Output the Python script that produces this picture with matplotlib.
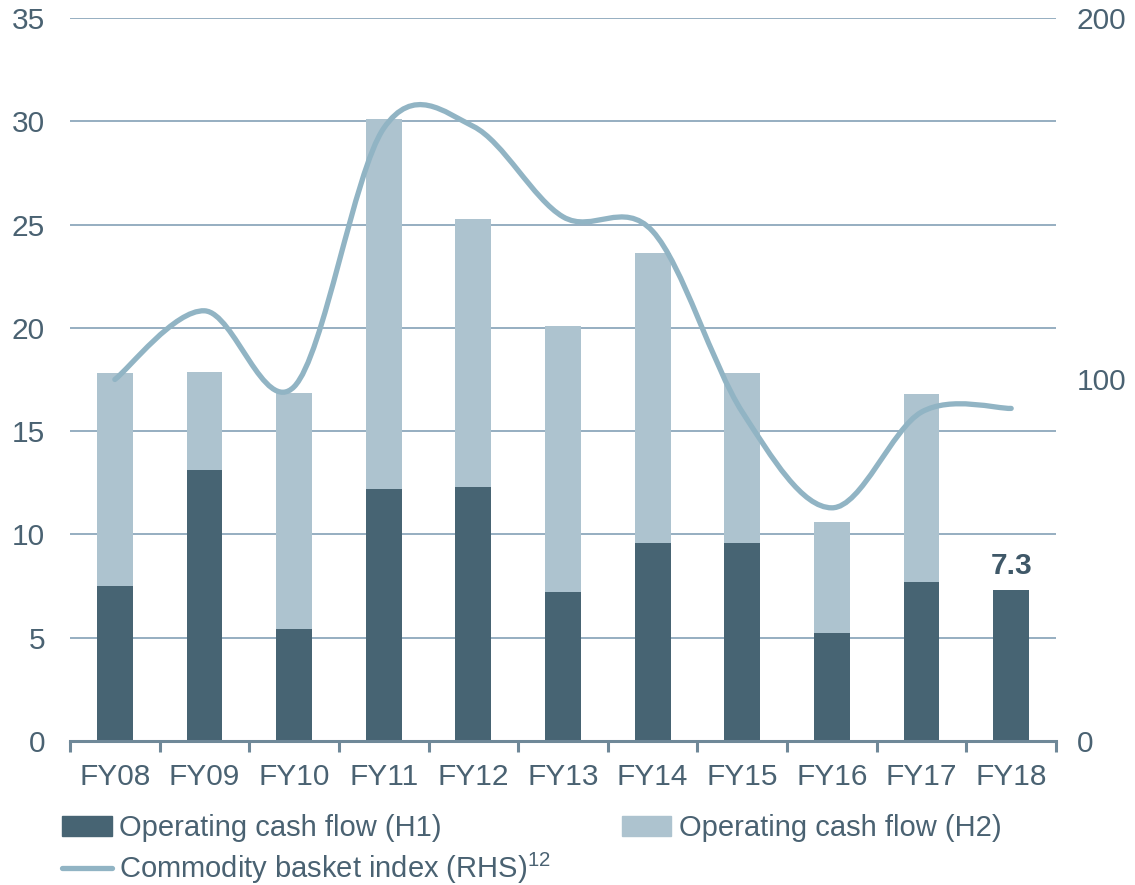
import matplotlib
matplotlib.use('Agg')
import matplotlib.pyplot as plt
from matplotlib.path import Path
from matplotlib.patches import PathPatch, Patch
from matplotlib.lines import Line2D

plt.rcParams.update({
    'font.family': 'Liberation Sans',
    'font.size': 21.5,
    'mathtext.fontset': 'custom',
    'mathtext.rm': 'Liberation Sans',
})

# data
years = ['FY08', 'FY09', 'FY10', 'FY11', 'FY12', 'FY13',
         'FY14', 'FY15', 'FY16', 'FY17', 'FY18']
ocf_h1 = [7.5, 13.1, 5.4, 12.2, 12.3, 7.2, 9.6, 9.6, 5.25, 7.7, 7.3]
ocf_h2 = [10.3, 4.75, 11.45, 17.9, 12.95, 12.9, 14.0, 8.2, 5.35, 9.1, 0.0]
commodity_idx = [100, 119, 98, 169.5, 170, 145, 141, 91, 64.5, 91, 92]

C_H1 = '#476473'
C_H2 = '#adc3cf'
C_LINE = '#91b4c4'
C_TEXT = '#4a6272'
C_GRID = '#8ea8bc'
C_AXIS = '#6f8898'


def smooth_path(xs, ys):
    # Excel-style smoothed line: cubic bezier segments through the points
    n = len(xs)
    verts = [(xs[0], ys[0])]
    codes = [Path.MOVETO]
    for i in range(n - 1):
        p0 = (xs[max(i - 1, 0)], ys[max(i - 1, 0)])
        p1 = (xs[i], ys[i])
        p2 = (xs[i + 1], ys[i + 1])
        p3 = (xs[min(i + 2, n - 1)], ys[min(i + 2, n - 1)])
        c1 = (p1[0] + (p2[0] - p0[0]) / 6, p1[1] + (p2[1] - p0[1]) / 6)
        c2 = (p2[0] - (p3[0] - p1[0]) / 6, p2[1] - (p3[1] - p1[1]) / 6)
        verts += [c1, c2, p2]
        codes += [Path.CURVE4] * 3
    return Path(verts, codes)


fig = plt.figure(figsize=(11.35, 8.85), dpi=100)
ax = fig.add_axes([0.0617, 0.1627, 0.8687, 0.817])
x = list(range(len(years)))

ax.bar(x, ocf_h1, width=0.4, color=C_H1, zorder=2)
ax.bar(x, ocf_h2, width=0.4, bottom=ocf_h1, color=C_H2, zorder=2)

ax.set_xlim(-0.5, len(years) - 0.5)
ax.set_ylim(0, 35)
ax.set_yticks(range(0, 36, 5))
ax.yaxis.grid(True, color=C_GRID, linewidth=1.3, zorder=0)
ax.set_axisbelow(True)
ax.tick_params(axis='y', length=0, pad=18, labelcolor=C_TEXT)

# boundary ticks on the category axis, labels centred between them
ax.set_xticks([i - 0.5 for i in range(len(years) + 1)])
ax.set_xticklabels([])
ax.set_xticks(x, minor=True)
ax.set_xticklabels(years, minor=True)
ax.tick_params(axis='x', which='major', length=8, width=2.2, color=C_AXIS, direction='out')
ax.tick_params(axis='x', which='minor', length=0, pad=16, labelcolor=C_TEXT)

for s in ['top', 'right', 'left']:
    ax.spines[s].set_visible(False)
ax.spines['bottom'].set_color(C_AXIS)
ax.spines['bottom'].set_linewidth(2.2)

ax.annotate('7.3', (x[-1], ocf_h1[-1]), xytext=(0, 7), textcoords='offset points',
            ha='center', va='bottom', fontweight='bold', color='#3f5868')

ax2 = ax.twinx()
ax2.set_ylim(0, 200)
ax2.set_yticks([0, 100, 200])
ax2.tick_params(axis='y', length=0, pad=15, labelcolor=C_TEXT)
for s in ['top', 'right', 'left', 'bottom']:
    ax2.spines[s].set_visible(False)
ax2.add_patch(PathPatch(smooth_path(x, commodity_idx), fill=False,
                        edgecolor=C_LINE, linewidth=3.8, capstyle='round', zorder=3))

handles = [
    Patch(color=C_H1),
    Line2D([], [], color=C_LINE, linewidth=3.8, solid_capstyle='round'),
    Patch(color=C_H2),
]
labels = ['Operating cash flow (H1)', 'Commodity basket index (RHS)$^{12}$',
          'Operating cash flow (H2)']
fig.legend(handles, labels, ncol=2, loc='upper left', bbox_to_anchor=(0.055, 0.08),
           frameon=False, handlelength=1.7, handleheight=0.7, handletextpad=0.25,
           labelspacing=0.3, columnspacing=2.42, borderaxespad=0, borderpad=0,
           labelcolor=C_TEXT, fontsize=21)

fig.savefig('out.png', dpi=100)
